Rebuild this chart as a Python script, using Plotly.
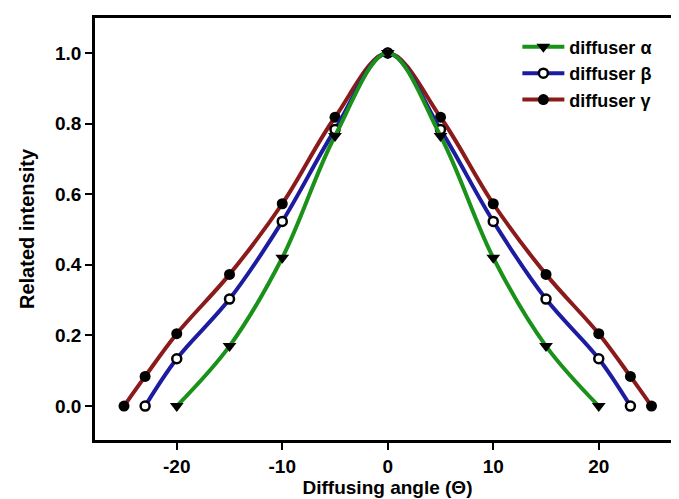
import plotly.graph_objects as go

angles_alpha = [-20, -15, -10, -5, 0, 5, 10, 15, 20]
intensity_alpha = [0.0, 0.17, 0.42, 0.765, 1.0, 0.765, 0.42, 0.17, 0.0]

angles_beta = [-23, -20, -15, -10, -5, 0, 5, 10, 15, 20, 23]
intensity_beta = [0.0, 0.134, 0.303, 0.523, 0.783, 1.0, 0.783, 0.523, 0.303, 0.134, 0.0]

angles_gamma = [-25, -23, -20, -15, -10, -5, 0, 5, 10, 15, 20, 23, 25]
intensity_gamma = [0.0, 0.084, 0.205, 0.373, 0.573, 0.818, 1.0, 0.818, 0.573, 0.373, 0.205, 0.084, 0.0]

x_ticks = [-20, -10, 0, 10, 20]
y_ticks = [0.0, 0.2, 0.4, 0.6, 0.8, 1.0]

FONT = "Liberation Sans"

fig = go.Figure()

fig.add_trace(go.Scatter(
    x=angles_gamma, y=intensity_gamma, name="diffuser γ",
    mode="lines+markers", line=dict(color="#8b1a1a", width=4, shape="spline"),
    marker=dict(symbol="circle", size=11, color="black"),
    legendrank=3,
))
fig.add_trace(go.Scatter(
    x=angles_beta, y=intensity_beta, name="diffuser β",
    mode="lines+markers", line=dict(color="#1c1ca0", width=4, shape="spline"),
    marker=dict(symbol="circle", size=9, color="white", line=dict(color="black", width=2.5)),
    legendrank=2,
))
fig.add_trace(go.Scatter(
    x=angles_alpha, y=intensity_alpha, name="diffuser α",
    mode="lines+markers", line=dict(color="#1a921a", width=4, shape="spline"),
    marker=dict(symbol="triangle-down", size=12, color="black"),
    legendrank=1,
))

axis_common = dict(
    showline=True, linecolor="black", linewidth=2.5, mirror=True,
    ticks="outside", ticklen=7, tickwidth=2, tickcolor="black",
    showgrid=False, zeroline=False, automargin=False,
    tickfont=dict(family=FONT, size=19, color="black", weight="bold"),
)

fig.update_xaxes(
    range=[-27.75, 27.7], tickvals=x_ticks, ticktext=[str(v) for v in x_ticks],
    title=dict(text="Diffusing angle (Θ)", standoff=4,
               font=dict(family=FONT, size=19, color="black", weight="bold")),
    **axis_common,
)
fig.update_yaxes(
    range=[-0.096, 1.099], tickvals=y_ticks, ticktext=[f"{v:.1f}" for v in y_ticks],
    title=dict(text="Related intensity", standoff=16,
               font=dict(family=FONT, size=20, color="black", weight="bold")),
    **axis_common,
)

fig.update_layout(
    width=679, height=499,
    margin=dict(l=87, r=7, t=10, b=67),
    paper_bgcolor="white", plot_bgcolor="white",
    font=dict(family=FONT, color="black"),
    legend=dict(
        x=0.722, y=0.975, xanchor="left", yanchor="top",
        bgcolor="rgba(0,0,0,0)", borderwidth=0,
        font=dict(family=FONT, size=18, color="black", weight="bold"),
        itemwidth=42, tracegroupgap=0,
    ),
)

fig.write_html("out.html")
